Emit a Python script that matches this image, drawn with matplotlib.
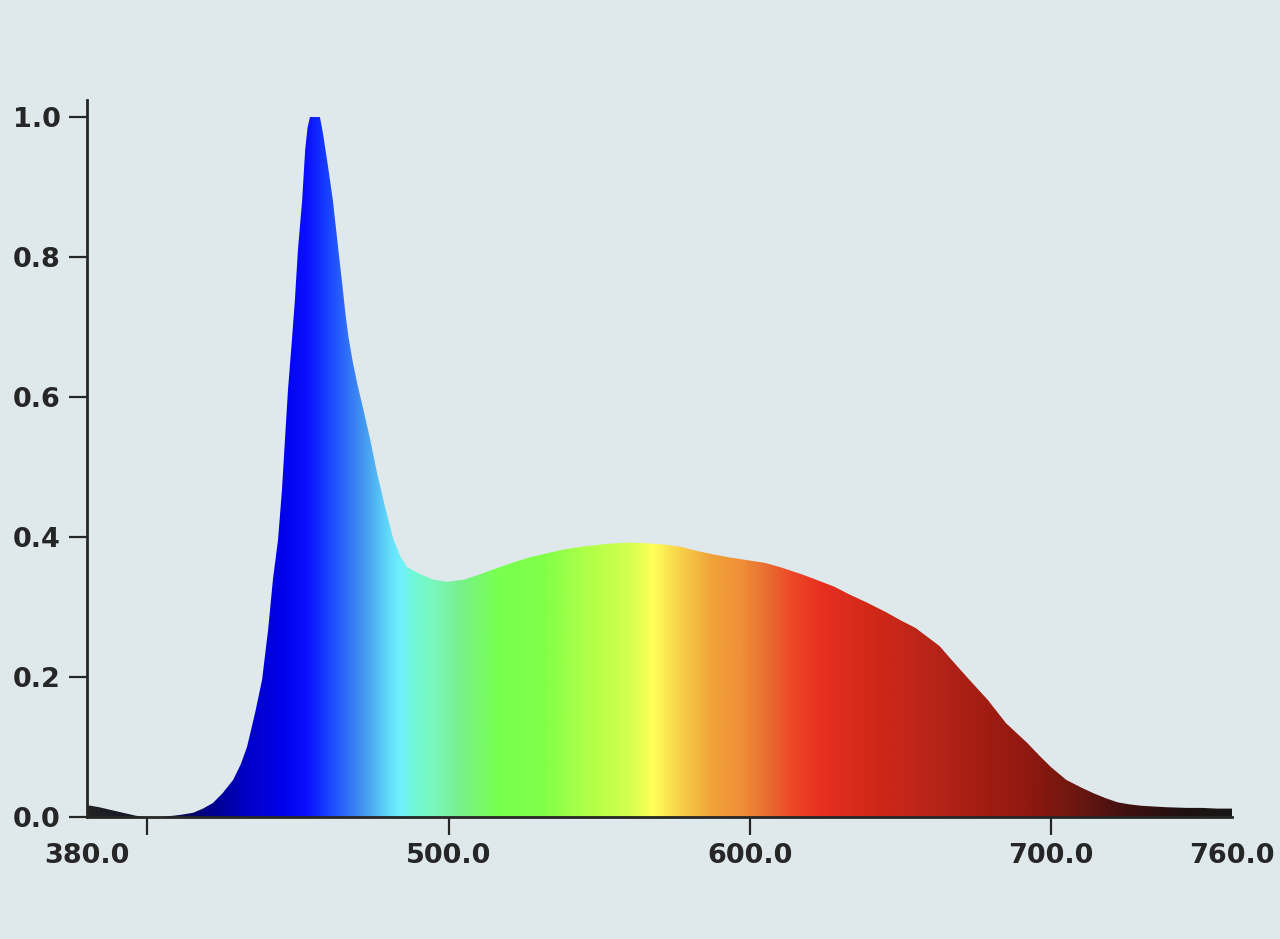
import numpy as np
import matplotlib
matplotlib.use("Agg")
import matplotlib.pyplot as plt
from matplotlib.colors import LinearSegmentedColormap
from matplotlib.path import Path
from matplotlib.patches import PathPatch

# ---- data ----
wavelength = [380, 384, 388, 392, 396, 399, 405, 410.9, 415.2, 418.5, 421.8, 425, 428.5,
              431, 433.1, 435.8, 438.1, 440.1, 441.7, 443.4, 444.7, 445.7, 446.7, 448.0,
              449.0, 450.0, 451.4, 452.4, 453.2, 454.0, 455.6, 457.3, 458.3, 460.0, 461.6,
              463.3, 465.0, 465.8, 466.8, 468.3, 469.8, 471.3, 473.9, 476.2, 478.9, 481.6,
              484, 486.2, 490.5, 495, 499.5, 505, 510, 515, 521, 527, 533, 538, 544, 550,
              555, 560, 566, 572, 577, 582.5, 588, 593, 599, 605, 610, 617, 622, 628, 633,
              639, 645, 650, 655, 659, 663, 666, 672, 679, 685, 692, 696, 700, 705, 710,
              714, 718, 722, 726, 730, 738, 745, 750, 755, 760]
intensity = [0.017, 0.014, 0.010, 0.006, 0.002, 0.0, 0.0, 0.003, 0.006, 0.012, 0.020, 0.034,
             0.053, 0.075, 0.100, 0.149, 0.196, 0.267, 0.339, 0.396, 0.467, 0.539, 0.610,
             0.681, 0.739, 0.810, 0.881, 0.953, 0.985, 1.0, 1.0, 1.0, 0.977, 0.929, 0.881,
             0.815, 0.750, 0.718, 0.685, 0.648, 0.617, 0.590, 0.541, 0.493, 0.443, 0.398,
             0.372, 0.357, 0.347, 0.339, 0.336, 0.339, 0.346, 0.354, 0.363, 0.371, 0.377,
             0.382, 0.386, 0.389, 0.391, 0.392, 0.391, 0.389, 0.386, 0.380, 0.375, 0.371,
             0.367, 0.363, 0.357, 0.347, 0.339, 0.329, 0.318, 0.306, 0.293, 0.281, 0.270,
             0.257, 0.244, 0.229, 0.200, 0.167, 0.134, 0.106, 0.088, 0.071, 0.053, 0.042,
             0.034, 0.027, 0.021, 0.018, 0.016, 0.014, 0.013, 0.013, 0.012, 0.012]

x_ticks = [380, 500, 600, 700, 760]
x_tick_labels = ["380.0", "500.0", "600.0", "700.0", "760.0"]
y_ticks = [0.0, 0.2, 0.4, 0.6, 0.8, 1.0]
y_tick_labels = ["0.0", "0.2", "0.4", "0.6", "0.8", "1.0"]

# spectrum colour stops (wavelength, colour)
stop_wl = [380, 405, 421.8, 433.1, 444, 453, 459.7, 466.3, 472.9, 479.6, 483.9, 488.2,
           494, 503, 516, 531, 546, 559, 568, 577, 588, 597, 605, 614, 623, 642, 660, 679,
           692, 707, 725, 744, 760]
stop_col = ["#222222", "#101030", "#000090", "#0000c8", "#0000e8", "#0a10ff", "#1840ff",
            "#3070f8", "#48a0f0", "#60d8f8", "#70f0ff", "#70f8d8", "#78f8c0", "#78f090",
            "#78ff50", "#80ff48", "#b0ff48", "#d0ff50", "#ffff58", "#f8d048", "#f0a038",
            "#f09038", "#e87030", "#ee4828", "#e83020", "#d02818", "#b82418", "#a01c12",
            "#901810", "#701810", "#401010", "#201010", "#181818"]

# ---- figure ----
bg = "#dfe9eb"
ink = "#262626"
fig = plt.figure(figsize=(12.8, 9.39), dpi=100, facecolor=bg)
ax = fig.add_axes([87 / 1280, 1 - 817 / 939, (1232 - 87) / 1280, (817 - 99.5) / 939])
ax.set_facecolor(bg)

xmin, xmax, ymin, ymax = 380, 760, 0.0, 1.025
ax.set_xlim(xmin, xmax)
ax.set_ylim(ymin, ymax)

pos = [(w - xmin) / (xmax - xmin) for w in stop_wl]
cmap = LinearSegmentedColormap.from_list("spec", list(zip(pos, stop_col)), N=1024)
grad = np.linspace(0, 1, 1024)[None, :]
im = ax.imshow(grad, cmap=cmap, extent=[xmin, xmax, ymin, ymax], aspect="auto",
               interpolation="bilinear", origin="lower", zorder=2)

verts = [(wavelength[0], 0.0)] + list(zip(wavelength, intensity)) + [(wavelength[-1], 0.0), (wavelength[0], 0.0)]
codes = [Path.MOVETO] + [Path.LINETO] * (len(verts) - 2) + [Path.CLOSEPOLY]
patch = PathPatch(Path(verts, codes), facecolor="none", edgecolor="none", transform=ax.transData)
ax.add_patch(patch)
im.set_clip_path(patch)

for s in ["top", "right"]:
    ax.spines[s].set_visible(False)
for s in ["left", "bottom"]:
    ax.spines[s].set_color(ink)
    ax.spines[s].set_linewidth(2.0)
    ax.spines[s].set_zorder(3)

ax.set_xticks(x_ticks)
ax.set_xticklabels(x_tick_labels)
ax.set_yticks(y_ticks)
ax.set_yticklabels(y_tick_labels)
ax.set_xticks([400], minor=True)

font = dict(family="DejaVu Sans", weight="bold", size=19.5)
for lab in ax.get_xticklabels() + ax.get_yticklabels():
    lab.set_fontproperties(matplotlib.font_manager.FontProperties(**font))
    lab.set_color(ink)

ax.tick_params(axis="x", which="both", direction="out", length=13, width=1.6, color=ink, pad=6)
ax.tick_params(axis="y", direction="out", length=13, width=1.6, color=ink, pad=6)
ticks = ax.xaxis.get_major_ticks()
ticks[0].tick1line.set_visible(False)
ticks[-1].tick1line.set_visible(False)

fig.savefig("out.png", dpi=100, facecolor=bg)
